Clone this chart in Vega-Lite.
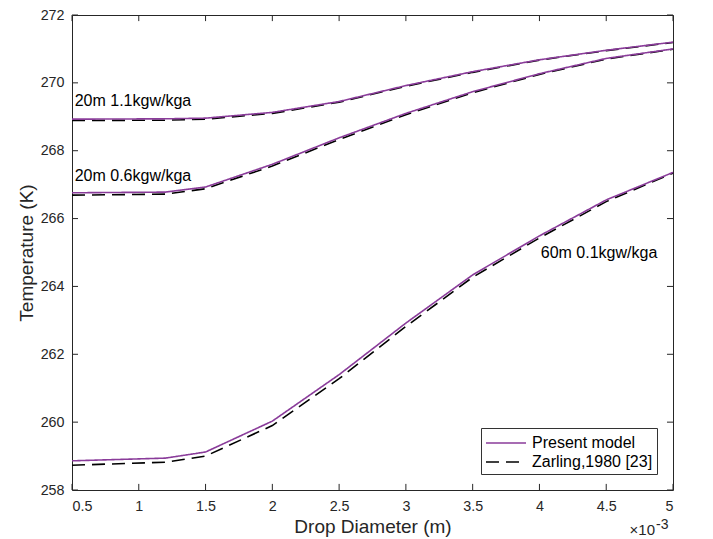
{
  "$schema": "https://vega.github.io/schema/vega-lite/v6.json",
  "width": 601,
  "height": 475,
  "autosize": "none",
  "padding": {"left": 72, "top": 15, "right": 40, "bottom": 49},
  "background": "white",
  "config": {
    "font": "Liberation Sans",
    "view": {"stroke": "#262626", "strokeWidth": 1},
    "axis": {
      "grid": false,
      "domain": false,
      "ticks": false,
      "labelColor": "#262626",
      "labelFontSize": 14.3,
      "labelFont": "Liberation Sans",
      "titleFont": "Liberation Sans",
      "titleFontWeight": "normal",
      "titleColor": "#262626",
      "titleFontSize": 19
    }
  },
  "datasets": {
    "curves": [
      {"d": 0.0005, "T": 258.86, "source": "Present model", "case": "60m 0.1kgw/kga"},
      {"d": 0.0012, "T": 258.94, "source": "Present model", "case": "60m 0.1kgw/kga"},
      {"d": 0.0015, "T": 259.12, "source": "Present model", "case": "60m 0.1kgw/kga"},
      {"d": 0.0020, "T": 260.03, "source": "Present model", "case": "60m 0.1kgw/kga"},
      {"d": 0.0025, "T": 261.40, "source": "Present model", "case": "60m 0.1kgw/kga"},
      {"d": 0.0030, "T": 262.92, "source": "Present model", "case": "60m 0.1kgw/kga"},
      {"d": 0.0035, "T": 264.34, "source": "Present model", "case": "60m 0.1kgw/kga"},
      {"d": 0.0040, "T": 265.49, "source": "Present model", "case": "60m 0.1kgw/kga"},
      {"d": 0.0045, "T": 266.55, "source": "Present model", "case": "60m 0.1kgw/kga"},
      {"d": 0.0050, "T": 267.36, "source": "Present model", "case": "60m 0.1kgw/kga"},
      {"d": 0.0005, "T": 258.73, "source": "Zarling,1980 [23]", "case": "60m 0.1kgw/kga"},
      {"d": 0.0012, "T": 258.82, "source": "Zarling,1980 [23]", "case": "60m 0.1kgw/kga"},
      {"d": 0.0015, "T": 259.00, "source": "Zarling,1980 [23]", "case": "60m 0.1kgw/kga"},
      {"d": 0.0020, "T": 259.90, "source": "Zarling,1980 [23]", "case": "60m 0.1kgw/kga"},
      {"d": 0.0025, "T": 261.28, "source": "Zarling,1980 [23]", "case": "60m 0.1kgw/kga"},
      {"d": 0.0030, "T": 262.82, "source": "Zarling,1980 [23]", "case": "60m 0.1kgw/kga"},
      {"d": 0.0035, "T": 264.27, "source": "Zarling,1980 [23]", "case": "60m 0.1kgw/kga"},
      {"d": 0.0040, "T": 265.43, "source": "Zarling,1980 [23]", "case": "60m 0.1kgw/kga"},
      {"d": 0.0045, "T": 266.50, "source": "Zarling,1980 [23]", "case": "60m 0.1kgw/kga"},
      {"d": 0.0050, "T": 267.34, "source": "Zarling,1980 [23]", "case": "60m 0.1kgw/kga"},
      {"d": 0.0005, "T": 266.76, "source": "Present model", "case": "20m 0.6kgw/kga"},
      {"d": 0.0012, "T": 266.78, "source": "Present model", "case": "20m 0.6kgw/kga"},
      {"d": 0.0015, "T": 266.93, "source": "Present model", "case": "20m 0.6kgw/kga"},
      {"d": 0.0020, "T": 267.60, "source": "Present model", "case": "20m 0.6kgw/kga"},
      {"d": 0.0025, "T": 268.38, "source": "Present model", "case": "20m 0.6kgw/kga"},
      {"d": 0.0030, "T": 269.10, "source": "Present model", "case": "20m 0.6kgw/kga"},
      {"d": 0.0035, "T": 269.74, "source": "Present model", "case": "20m 0.6kgw/kga"},
      {"d": 0.0040, "T": 270.27, "source": "Present model", "case": "20m 0.6kgw/kga"},
      {"d": 0.0045, "T": 270.72, "source": "Present model", "case": "20m 0.6kgw/kga"},
      {"d": 0.0050, "T": 271.00, "source": "Present model", "case": "20m 0.6kgw/kga"},
      {"d": 0.0005, "T": 266.69, "source": "Zarling,1980 [23]", "case": "20m 0.6kgw/kga"},
      {"d": 0.0012, "T": 266.72, "source": "Zarling,1980 [23]", "case": "20m 0.6kgw/kga"},
      {"d": 0.0015, "T": 266.88, "source": "Zarling,1980 [23]", "case": "20m 0.6kgw/kga"},
      {"d": 0.0020, "T": 267.55, "source": "Zarling,1980 [23]", "case": "20m 0.6kgw/kga"},
      {"d": 0.0025, "T": 268.33, "source": "Zarling,1980 [23]", "case": "20m 0.6kgw/kga"},
      {"d": 0.0030, "T": 269.06, "source": "Zarling,1980 [23]", "case": "20m 0.6kgw/kga"},
      {"d": 0.0035, "T": 269.71, "source": "Zarling,1980 [23]", "case": "20m 0.6kgw/kga"},
      {"d": 0.0040, "T": 270.25, "source": "Zarling,1980 [23]", "case": "20m 0.6kgw/kga"},
      {"d": 0.0045, "T": 270.70, "source": "Zarling,1980 [23]", "case": "20m 0.6kgw/kga"},
      {"d": 0.0050, "T": 270.99, "source": "Zarling,1980 [23]", "case": "20m 0.6kgw/kga"},
      {"d": 0.0005, "T": 268.93, "source": "Present model", "case": "20m 1.1kgw/kga"},
      {"d": 0.0012, "T": 268.94, "source": "Present model", "case": "20m 1.1kgw/kga"},
      {"d": 0.0015, "T": 268.96, "source": "Present model", "case": "20m 1.1kgw/kga"},
      {"d": 0.0020, "T": 269.13, "source": "Present model", "case": "20m 1.1kgw/kga"},
      {"d": 0.0025, "T": 269.45, "source": "Present model", "case": "20m 1.1kgw/kga"},
      {"d": 0.0030, "T": 269.92, "source": "Present model", "case": "20m 1.1kgw/kga"},
      {"d": 0.0035, "T": 270.33, "source": "Present model", "case": "20m 1.1kgw/kga"},
      {"d": 0.0040, "T": 270.68, "source": "Present model", "case": "20m 1.1kgw/kga"},
      {"d": 0.0045, "T": 270.96, "source": "Present model", "case": "20m 1.1kgw/kga"},
      {"d": 0.0050, "T": 271.20, "source": "Present model", "case": "20m 1.1kgw/kga"},
      {"d": 0.0005, "T": 268.89, "source": "Zarling,1980 [23]", "case": "20m 1.1kgw/kga"},
      {"d": 0.0012, "T": 268.90, "source": "Zarling,1980 [23]", "case": "20m 1.1kgw/kga"},
      {"d": 0.0015, "T": 268.93, "source": "Zarling,1980 [23]", "case": "20m 1.1kgw/kga"},
      {"d": 0.0020, "T": 269.10, "source": "Zarling,1980 [23]", "case": "20m 1.1kgw/kga"},
      {"d": 0.0025, "T": 269.43, "source": "Zarling,1980 [23]", "case": "20m 1.1kgw/kga"},
      {"d": 0.0030, "T": 269.90, "source": "Zarling,1980 [23]", "case": "20m 1.1kgw/kga"},
      {"d": 0.0035, "T": 270.31, "source": "Zarling,1980 [23]", "case": "20m 1.1kgw/kga"},
      {"d": 0.0040, "T": 270.67, "source": "Zarling,1980 [23]", "case": "20m 1.1kgw/kga"},
      {"d": 0.0045, "T": 270.95, "source": "Zarling,1980 [23]", "case": "20m 1.1kgw/kga"},
      {"d": 0.0050, "T": 271.19, "source": "Zarling,1980 [23]", "case": "20m 1.1kgw/kga"}
    ],
    "labels": [
      {"d": 0.00052, "T": 269.46, "text": "20m 1.1kgw/kga"},
      {"d": 0.00052, "T": 267.25, "text": "20m 0.6kgw/kga"},
      {"d": 0.00401, "T": 264.98, "text": "60m 0.1kgw/kga"}
    ],
    "xTicks": [
      {"d": 0.0005}, {"d": 0.0010}, {"d": 0.0015}, {"d": 0.0020}, {"d": 0.0025},
      {"d": 0.0030}, {"d": 0.0035}, {"d": 0.0040}, {"d": 0.0045}, {"d": 0.0050}
    ],
    "yTicks": [
      {"T": 258}, {"T": 260}, {"T": 262}, {"T": 264}, {"T": 266}, {"T": 268}, {"T": 270}, {"T": 272}
    ]
  },
  "layer": [
    {
      "data": {"name": "curves"},
      "transform": [{"filter": "datum.source === 'Zarling,1980 [23]'"}],
      "mark": {"type": "line", "strokeWidth": 1.6, "clip": true},
      "encoding": {
        "x": {
          "field": "d", "type": "quantitative",
          "scale": {"domain": [0.0005, 0.005], "nice": false, "zero": false},
          "axis": {
            "orient": "bottom",
            "tickCount": 10,
            "labelExpr": "format(datum.value * 1000, '~g')",
            "labelPadding": 9,
            "title": "Drop Diameter (m)",
            "titlePadding": 4
          }
        },
        "y": {
          "field": "T", "type": "quantitative",
          "scale": {"domain": [258, 272], "nice": false, "zero": false},
          "axis": {
            "orient": "left",
            "tickCount": 7,
            "labelPadding": 8,
            "title": "Temperature (K)",
            "titlePadding": 4
          }
        },
        "detail": {"field": "case"},
        "color": {
          "field": "source", "type": "nominal",
          "scale": {"domain": ["Present model", "Zarling,1980 [23]"], "range": ["#8A3C9A", "#000000"]},
          "legend": {
            "title": null,
            "orient": "bottom-right",
            "offset": 16,
            "symbolType": "M-1,0H3",
            "symbolSize": 400,
            "symbolStrokeWidth": 1.6,
            "labelFontSize": 16,
            "labelColor": "#000000",
            "labelFont": "Liberation Sans",
            "labelOffset": 25,
            "strokeColor": "#333333",
            "fillColor": "white",
            "padding": 4,
            "rowPadding": 0
          }
        },
        "strokeDash": {
          "field": "source", "type": "nominal",
          "scale": {"domain": ["Present model", "Zarling,1980 [23]"], "range": [[1, 0], [13, 7]]},
          "legend": null
        }
      }
    },
    {
      "data": {"name": "curves"},
      "transform": [{"filter": "datum.source === 'Present model'"}],
      "mark": {"type": "line", "strokeWidth": 1.6, "clip": true},
      "encoding": {
        "x": {"field": "d", "type": "quantitative"},
        "y": {"field": "T", "type": "quantitative"},
        "detail": {"field": "case"},
        "color": {"field": "source", "type": "nominal"},
        "strokeDash": {"field": "source", "type": "nominal"}
      }
    },
    {
      "data": {"name": "labels"},
      "mark": {"type": "text", "align": "left", "baseline": "middle", "fontSize": 16, "color": "#000000", "font": "Liberation Sans"},
      "encoding": {
        "x": {"field": "d", "type": "quantitative"},
        "y": {"field": "T", "type": "quantitative"},
        "text": {"field": "text"}
      }
    },
    {
      "data": {"name": "xTicks"},
      "mark": {"type": "rule", "color": "#262626", "strokeWidth": 1, "opacity": 1},
      "encoding": {
        "x": {"field": "d", "type": "quantitative"},
        "y": {"datum": 258, "type": "quantitative"},
        "y2": {"datum": 258.18}
      }
    },
    {
      "data": {"name": "xTicks"},
      "mark": {"type": "rule", "color": "#262626", "strokeWidth": 1, "opacity": 1},
      "encoding": {
        "x": {"field": "d", "type": "quantitative"},
        "y": {"datum": 272, "type": "quantitative"},
        "y2": {"datum": 271.82}
      }
    },
    {
      "data": {"name": "yTicks"},
      "mark": {"type": "rule", "color": "#262626", "strokeWidth": 1, "opacity": 1},
      "encoding": {
        "y": {"field": "T", "type": "quantitative"},
        "x": {"datum": 0.0005, "type": "quantitative"},
        "x2": {"datum": 0.000545}
      }
    },
    {
      "data": {"name": "yTicks"},
      "mark": {"type": "rule", "color": "#262626", "strokeWidth": 1, "opacity": 1},
      "encoding": {
        "y": {"field": "T", "type": "quantitative"},
        "x": {"datum": 0.005, "type": "quantitative"},
        "x2": {"datum": 0.004955}
      }
    },
    {
      "data": {"values": [{}]},
      "mark": {"type": "text", "align": "right", "baseline": "alphabetic", "fontSize": 15, "color": "#262626", "dx": -18, "dy": 45},
      "encoding": {
        "x": {"datum": 0.005, "type": "quantitative"},
        "y": {"datum": 258, "type": "quantitative"},
        "text": {"value": "×10"}
      }
    },
    {
      "data": {"values": [{}]},
      "mark": {"type": "text", "align": "left", "baseline": "alphabetic", "fontSize": 14, "color": "#262626", "dx": -17, "dy": 39},
      "encoding": {
        "x": {"datum": 0.005, "type": "quantitative"},
        "y": {"datum": 258, "type": "quantitative"},
        "text": {"value": "-3"}
      }
    }
  ]
}
